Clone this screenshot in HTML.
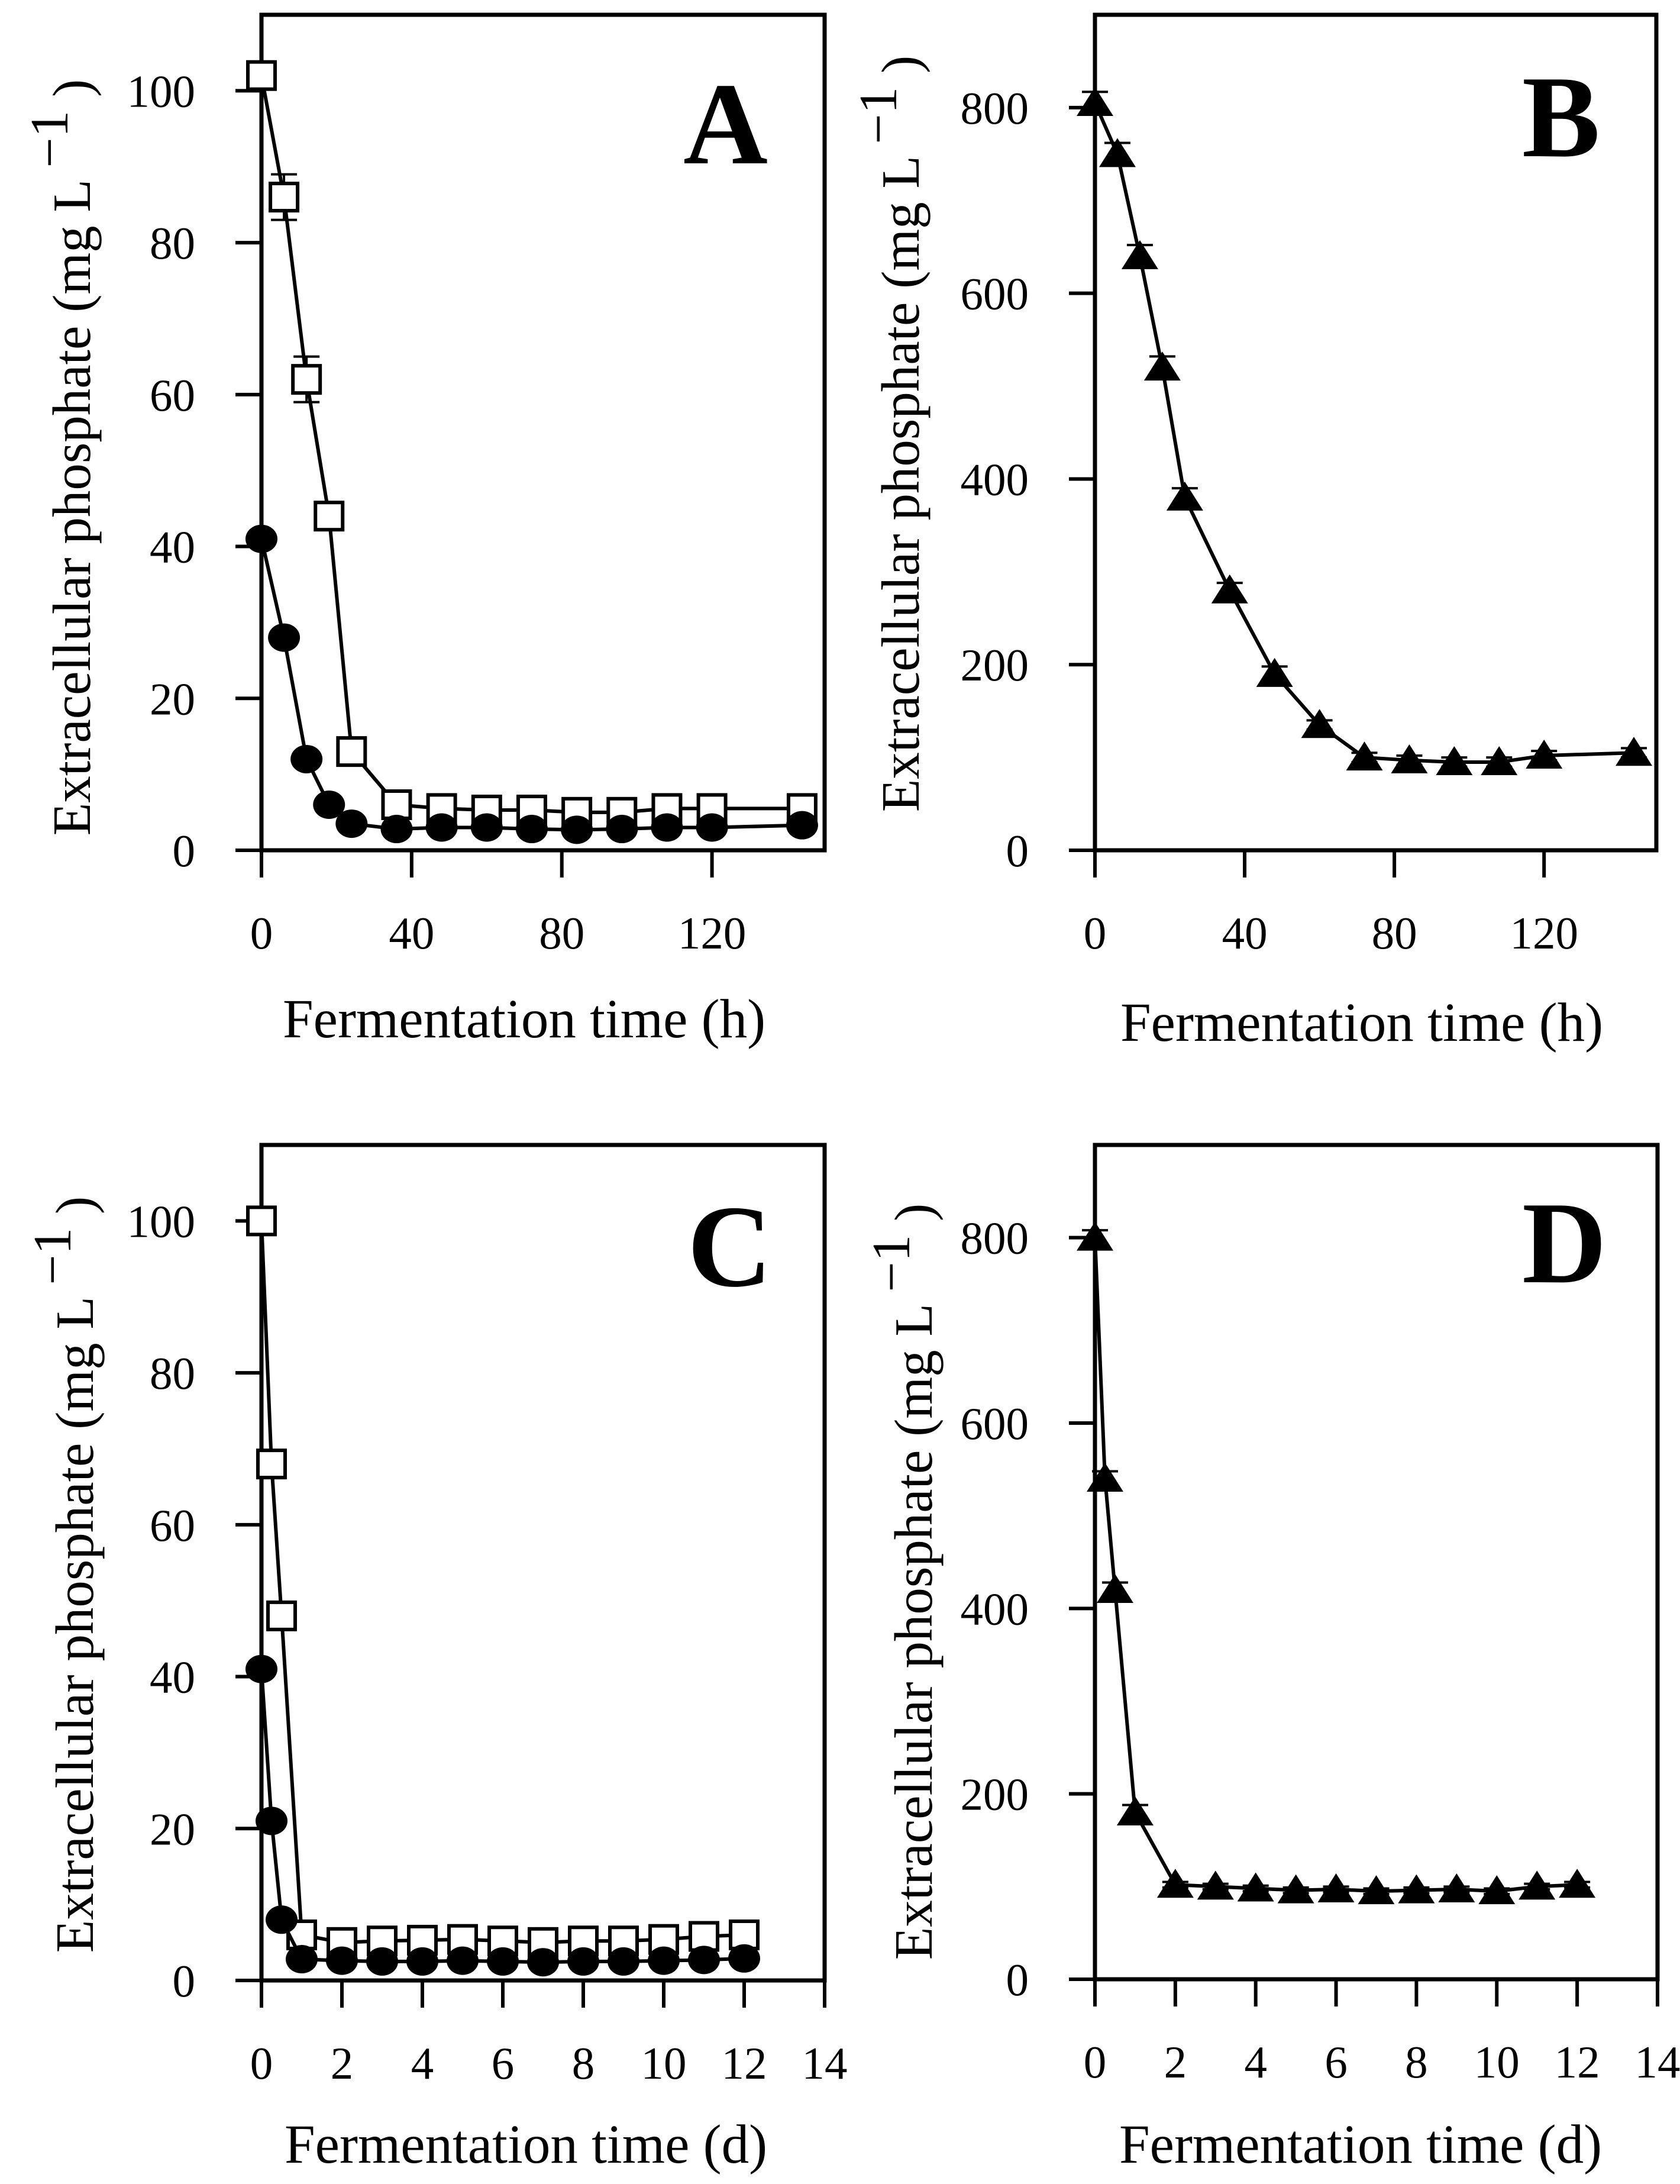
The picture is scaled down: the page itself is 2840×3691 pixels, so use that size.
<!DOCTYPE html>
<html><head><meta charset="utf-8"><style>
html,body{margin:0;padding:0;background:#fff;}
svg{display:block;font-family:"Liberation Serif",serif;}
</style></head><body>
<svg id="fig" width="2840" height="3691" viewBox="0 0 2840 3691" xmlns="http://www.w3.org/2000/svg"></svg>
<script>
const hoursA = [0,6,12,18,24,36,48,60,72,84,96,108,120,144];
const squaresA = [102,86,62,44,13,6,5.5,5.3,5.3,5,5,5.5,5.5,5.5];
const squaresAErr = [0,3,3,0,0,0,0,0,0,0,0,0,0,0];
const circlesA = [41,28,12,6,3.5,2.8,3,3,2.8,2.7,2.8,3,3,3.3];
const hoursB = [0,6,12,18,24,36,48,60,72,84,96,108,120,144];
const trianglesB = [805,750,640,520,380,280,190,135,100,97,95,95,102,105];
const trianglesBErr = [12,12,12,12,10,8,8,5,5,5,5,5,5,5];
const daysC = [0,0.25,0.5,1,2,3,4,5,6,7,8,9,10,11,12];
const squaresC = [100,68,48,6,5,5.2,5.3,5.4,5.2,5,5.2,5.2,5.4,5.8,6];
const circlesC = [41,21,8,2.8,2.6,2.5,2.5,2.6,2.5,2.4,2.5,2.5,2.6,2.7,2.9];
const daysD = [0,0.25,0.5,1,2,3,4,5,6,7,8,9,10,11,12];
const trianglesD = [800,540,420,180,102,100,98,96,97,95,96,97,95,100,102];
const trianglesDErr = [8,8,8,8,3,3,3,3,3,3,3,3,3,3,3];
const ticksXh = [0,40,80,120];
const ticksXd = [0,2,4,6,8,10,12,14];
const ticksY100 = [0,20,40,60,80,100];
const ticksY800 = [0,200,400,600,800];

const NS = "http://www.w3.org/2000/svg";
const fig = document.getElementById('fig');
function mk(tag, attrs, parent){const e=document.createElementNS(NS,tag);for(const k in attrs)e.setAttribute(k,attrs[k]);(parent||fig).appendChild(e);return e;}

function panel(p){
  const g = mk('g',{});
  
  
  const sx = v => p.L + v/(p.xmax)*(p.R - p.L);
  const sy = v => p.B - v/(p.ymax)*(p.B - p.T);
  const fr = mk('rect',{x:p.L,y:p.T,width:p.R-p.L,height:p.B-p.T,fill:'none',stroke:'#000','stroke-width':7},g);
  
  
  p.yt.forEach(v=>{
    const y=sy(v);
    mk('line',{x1:p.L-44,x2:p.L,y1:y,y2:y,stroke:'#000','stroke-width':6},g);
    const t=mk('text',{x:p.L-112,y:y+27,'text-anchor':'end','font-size':77},g);
    t.textContent=v;
    
    
  });
  p.xt.forEach(v=>{
    const x=sx(v);
    mk('line',{x1:x,x2:x,y1:p.B,y2:p.B+46,stroke:'#000','stroke-width':6},g);
    const t=mk('text',{x:x,y:p.B+166,'text-anchor':'middle','font-size':77},g);
    t.textContent=v;
    
    
  });
  const xt=mk('text',{x:p.xtx,y:p.xty,'text-anchor':'middle','font-size':93},g);
  xt.textContent=p.xtitle;
  
  
  const yt=mk('text',{x:0,y:0,'text-anchor':'middle','font-size':91,transform:`translate(${p.ytx},${p.yty}) rotate(-90)`},g);
  
  
  const s1=mk('tspan',{},yt); s1.textContent='Extracellular phosphate (mg L ';
  const s2=mk('tspan',{dy:-38},yt); s2.textContent='\u22121';
  const s3=mk('tspan',{dy:38},yt); s3.textContent=' )';
  const lt=mk('text',{x:p.lx,y:p.ly,'text-anchor':'end','font-size':198,'font-weight':'bold'},g);
  lt.textContent=p.letter;
  
  
  p.series.forEach(s=>{
    const pts=s.y.map((v,i)=>sx(p.x[i])+','+sy(v)).join(' ');
    const ln=mk('polyline',{points:pts,fill:'none',stroke:'#000','stroke-width':6},g);
    
    
    s.y.forEach((v,i)=>{
      const cx=sx(p.x[i]), cy=sy(v);
      if(s.err && s.err[i]>0){
        const e1=sy(v+s.err[i]), e2=sy(v-s.err[i]);
        mk('path',{d:`M${cx},${e1}V${e2}M${cx-22},${e1}H${cx+22}M${cx-22},${e2}H${cx+22}`,stroke:'#000','stroke-width':4,fill:'none'},g);
      }
      let m;
      if(s.shape==='square') m=mk('rect',{x:cx-23,y:cy-23,width:46,height:46,fill:'#fff',stroke:'#000','stroke-width':6},g);
      else if(s.shape==='circle') m=mk('ellipse',{cx:cx,cy:cy,rx:27,ry:24,fill:'#000'},g);
      else m=mk('polygon',{points:`${cx-31},${cy+22} ${cx+31},${cy+22} ${cx},${cy-27}`,fill:'#000'},g);
      
      
    });
  });
}

panel({letter:'A',L:442,R:1394,T:25,B:1437,xmax:150,ymax:110,xt:ticksXh,yt:ticksY100,x:hoursA,
  xtitle:'Fermentation time (h)',xtx:886,xty:1753,ytx:152,yty:773,lx:1298,ly:276,
  series:[{name:'squares',shape:'square',y:squaresA,err:squaresAErr},{name:'circles',shape:'circle',y:circlesA}]});
panel({letter:'B',L:1851,R:2800,T:25,B:1437,xmax:150,ymax:900,xt:ticksXh,yt:ticksY800,x:hoursB,
  xtitle:'Fermentation time (h)',xtx:2302,xty:1759,ytx:1553,yty:733,lx:2705,ly:264,
  series:[{name:'triangles',shape:'triangle',y:trianglesB,err:trianglesBErr}]});
panel({letter:'C',L:442,R:1394,T:1935,B:3347,xmax:14,ymax:110,xt:ticksXd,yt:ticksY100,x:daysC,
  xtitle:'Fermentation time (d)',xtx:889,xty:3655,ytx:157,yty:2661,lx:1305,ly:2173,
  series:[{name:'squares',shape:'square',y:squaresC},{name:'circles',shape:'circle',y:circlesC}]});
panel({letter:'D',L:1851,R:2802,T:1935,B:3345,xmax:14,ymax:900,xt:ticksXd,yt:ticksY800,x:daysD,
  xtitle:'Fermentation time (d)',xtx:2300,xty:3655,ytx:1575,yty:2673,lx:2716,ly:2167,
  series:[{name:'triangles',shape:'triangle',y:trianglesD,err:trianglesDErr}]});
</script>
</body></html>
